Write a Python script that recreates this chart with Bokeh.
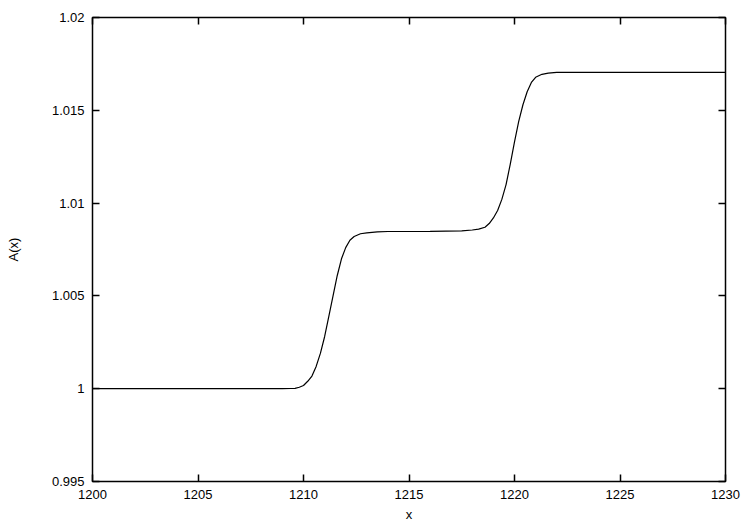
from bokeh.plotting import figure
from bokeh.models import Range1d, FixedTicker, LinearAxis, CustomJSTickFormatter
from bokeh.embed import file_html
from bokeh.resources import INLINE

# data
x_vals = [1200.0, 1205.0, 1209.0, 1209.4, 1209.6, 1209.8, 1210.0, 1210.2, 1210.4,
          1210.6, 1210.8, 1211.0, 1211.2, 1211.4, 1211.6, 1211.8, 1212.0, 1212.2,
          1212.4, 1212.7, 1213.0, 1213.5, 1214.0, 1216.0, 1217.5, 1218.0, 1218.3,
          1218.6, 1218.8, 1219.0, 1219.2, 1219.4, 1219.6, 1219.8, 1220.0, 1220.2,
          1220.4, 1220.6, 1220.8, 1221.0, 1221.3, 1221.6, 1222.0, 1226.0, 1230.0]
a_vals = [1.0, 1.0, 1.0, 1.00001, 1.00002, 1.00008, 1.00017, 1.0004, 1.00068,
          1.0012, 1.0019, 1.0028, 1.0039, 1.0050, 1.0061, 1.0070, 1.0076, 1.0080,
          1.0082, 1.00835, 1.0084, 1.00845, 1.00847, 1.00848, 1.0085, 1.00855, 1.0086,
          1.0087, 1.0089, 1.0092, 1.0096, 1.0102, 1.0110, 1.0121, 1.0133, 1.0144,
          1.0153, 1.0160, 1.0165, 1.01678, 1.01694, 1.0170, 1.01704, 1.01704, 1.01704]

x_ticks = [1200, 1205, 1210, 1215, 1220, 1225, 1230]
y_ticks = [0.995, 1.0, 1.005, 1.01, 1.015, 1.02]

FONT = "Liberation Sans"
FS = "13px"

p = figure(width=750, height=525, output_backend="svg", toolbar_location=None,
           x_range=Range1d(1200, 1230), y_range=Range1d(0.995, 1.02),
           min_border_left=92, min_border_right=25, min_border_top=17, min_border_bottom=44)
p.grid.visible = False
p.outline_line_color = "black"
p.outline_line_width = 1.5
p.background_fill_color = "white"
p.border_fill_color = "white"

p.line(x_vals, a_vals, line_color="black", line_width=1.2)

yfmt = CustomJSTickFormatter(code="return String(Number(tick.toFixed(4)));")
blank = CustomJSTickFormatter(code="return '';")

def style(ax):
    ax.axis_line_color = None
    ax.major_tick_in = 7
    ax.major_tick_out = 0
    ax.major_tick_line_width = 1.5
    ax.major_tick_line_color = "black"
    ax.minor_tick_line_color = None
    ax.major_label_text_font = FONT
    ax.major_label_text_font_size = FS
    ax.major_label_text_color = "black"
    ax.axis_label_text_font = FONT
    ax.axis_label_text_font_size = FS
    ax.axis_label_text_font_style = "normal"
    ax.axis_label_text_color = "black"

xa = p.xaxis[0]
xa.ticker = FixedTicker(ticks=x_ticks)
xa.axis_label = "x"
style(xa)
xa.major_label_standoff = 8
xa.axis_label_standoff = 5

ya = p.yaxis[0]
ya.ticker = FixedTicker(ticks=y_ticks)
ya.formatter = yfmt
ya.axis_label = "A(x)"
style(ya)
ya.major_label_standoff = 8
ya.axis_label_standoff = 28

top = LinearAxis(ticker=FixedTicker(ticks=x_ticks), formatter=blank)
style(top)
top.major_label_standoff = 0
p.add_layout(top, "above")

right = LinearAxis(ticker=FixedTicker(ticks=y_ticks), formatter=blank)
style(right)
right.major_label_standoff = 0
p.add_layout(right, "right")

open("out.html", "w").write(file_html(p, INLINE))
